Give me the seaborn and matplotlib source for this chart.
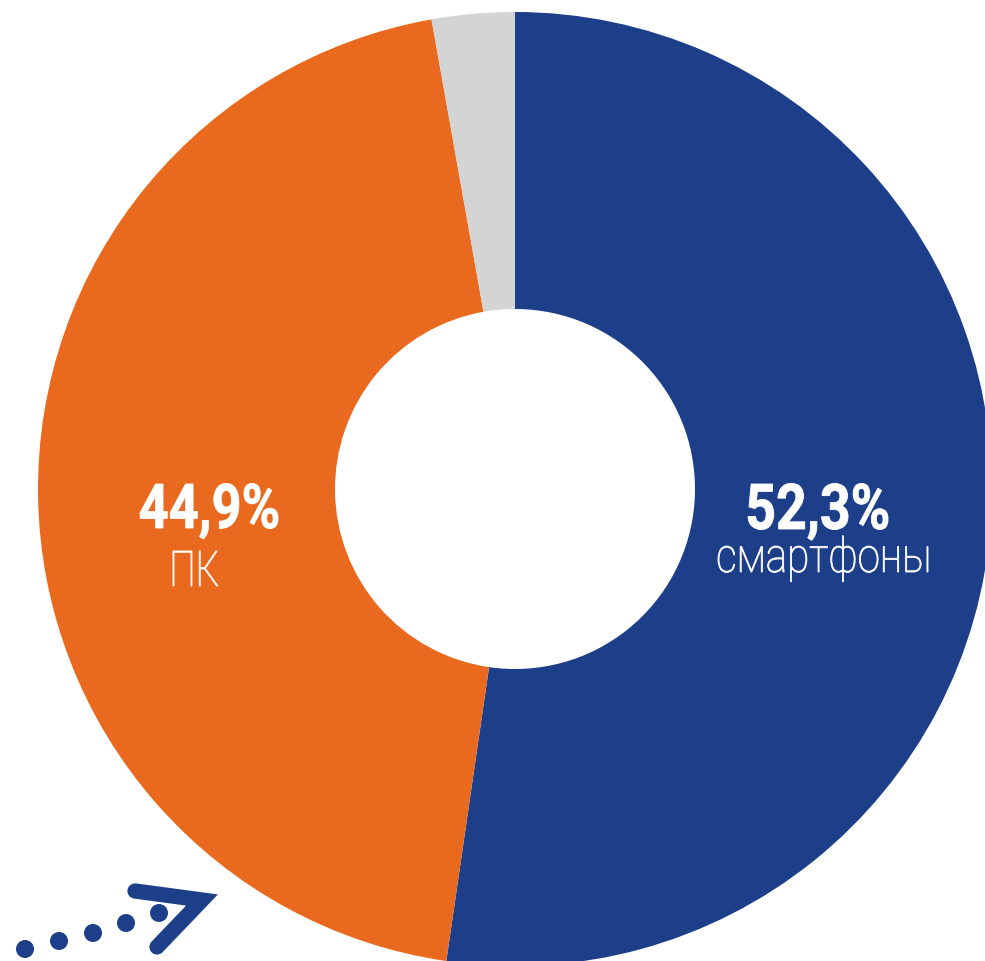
import matplotlib
matplotlib.use("Agg")
import matplotlib.pyplot as plt
import seaborn as sns
from matplotlib.textpath import TextPath
from matplotlib.patches import PathPatch
from matplotlib.font_manager import FontProperties
from matplotlib.transforms import Affine2D

# данные
labels = ["смартфоны", "ПК", "другое"]
values = [52.3, 44.9, 2.8]
colors = ["#1d3f89", "#e96a1e", "#d4d4d4"]
pct_text = ["52,3%", "44,9%"]

sns.set_theme(style="white")
plt.rcParams["font.family"] = ["Roboto", "DejaVu Sans"]

W, H = 985, 962
fig = plt.figure(figsize=(W / 100, H / 100), dpi=100)
ax = fig.add_axes([0, 0, 1, 1])

cx, cy, r = 515, H - 490, 477
ax.pie(values, colors=colors, startangle=90, counterclock=False,
       center=(cx, cy), radius=r,
       wedgeprops=dict(width=r - 180, linewidth=0))
ax.set_xlim(0, W)
ax.set_ylim(0, H)
ax.set_aspect("equal")
ax.axis("off")


def narrow_text(s, x0, x1, base, height, ref, weight):
    # текст в узком начертании: растягиваем контур под заданную рамку
    prop = FontProperties(family="Roboto", weight=weight)
    p = TextPath((0, 0), s, size=100, prop=prop)
    rp = TextPath((0, 0), ref, size=100, prop=prop)
    ext = p.get_extents()
    rext = rp.get_extents()
    sy = height / rext.y1
    sx = (x1 - x0) / ext.width
    tr = Affine2D().translate(-ext.x0, 0).scale(sx, sy).translate(x0, H - base)
    ax.add_patch(PathPatch(tr.transform_path(p), color="white", lw=0.6))


narrow_text(pct_text[0], 748, 888, 530, 45, "5", "bold")
narrow_text(labels[0], 718, 928, 573, 26, "о", "light")
narrow_text(pct_text[1], 140, 278, 529, 44, "4", "bold")
narrow_text(labels[1], 173, 218, 587, 35, "П", "light")

# декоративная стрелка
blue = colors[0]
for x, y in [(25, 950), (59, 942), (93, 934), (126, 924), (159, 914)]:
    ax.add_patch(plt.Circle((x, H - y), 9, color=blue, lw=0))
ax.plot([135, 202, 157], [H - 892, H - 901, H - 948], color=blue, lw=11,
        solid_capstyle="round", solid_joinstyle="miter")

fig.savefig("out.png", dpi=100)
